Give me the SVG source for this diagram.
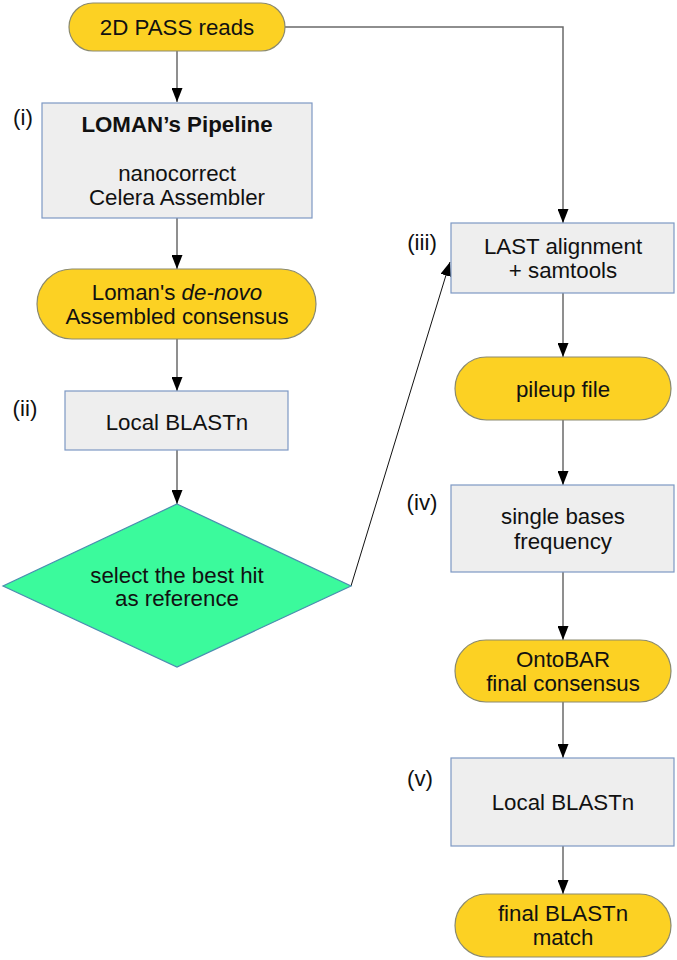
<svg xmlns="http://www.w3.org/2000/svg" width="677" height="960" viewBox="0 0 677 960">
<defs>
<marker id="ah" markerWidth="14" markerHeight="11" refX="14" refY="5.5" orient="auto" markerUnits="userSpaceOnUse" viewBox="0 0 14 11">
<path d="M0,0 L14,5.5 L0,11 Z" fill="#000"/>
</marker>
<style>
text{font-family:"Liberation Sans",Arial,sans-serif;font-size:22.3px;fill:#111;text-anchor:middle}
.pill{fill:#fcd123;stroke:#8b8a6e;stroke-width:1.2}
.box{fill:#eeeeee;stroke:#7d98c4;stroke-width:1.2}
.dia{fill:#3bfa9c;stroke:#4a8eb0;stroke-width:1.2}
.c{fill:none;stroke:#6a6a6a;stroke-width:1.5}
.thin{fill:none;stroke:#111;stroke-width:1}
</style>
</defs>
<g id="connectors">
<path class="c" d="M177,51 V102" marker-end="url(#ah)"/>
<path class="c" d="M285,27 H563 V223" marker-end="url(#ah)"/>
<path class="c" d="M177,218 V269" marker-end="url(#ah)"/>
<path class="c" d="M177,339 V391" marker-end="url(#ah)"/>
<path class="c" d="M177,450 V504" marker-end="url(#ah)"/>
<path class="thin" d="M351,586 L450,262" marker-end="url(#ah)"/>
<path class="c" d="M563,293 V357" marker-end="url(#ah)"/>
<path class="c" d="M563,420 V485" marker-end="url(#ah)"/>
<path class="c" d="M563,572 V640" marker-end="url(#ah)"/>
<path class="c" d="M563,702 V758" marker-end="url(#ah)"/>
<path class="c" d="M563,846 V894" marker-end="url(#ah)"/>
</g>
<g id="n1"><rect class="pill" x="69" y="3" width="216" height="48" rx="24"/><text x="177" y="35">2D PASS reads</text></g>
<g id="n2"><rect class="box" x="42" y="103" width="270" height="115"/><text x="23" y="125">(i)</text>
<text x="177" y="132" style="font-weight:bold">LOMAN’s Pipeline</text><text x="177" y="181">nanocorrect</text><text x="177" y="205">Celera Assembler</text></g>
<g id="n3"><rect class="pill" x="37" y="269" width="279" height="70" rx="35"/><text x="177" y="300">Loman's <tspan font-style="italic">de-novo</tspan></text><text x="177" y="324">Assembled consensus</text></g>
<g id="n4"><rect class="box" x="65" y="391" width="223" height="59"/><text x="25" y="416">(ii)</text><text x="177" y="430">Local BLASTn</text></g>
<g id="n5"><polygon class="dia" points="177,504 351,586 177,667 3,586"/><text x="177" y="583">select the best hit</text><text x="177" y="606">as reference</text></g>
<g id="n6"><rect class="box" x="451" y="223" width="223" height="70"/><text x="422" y="250">(iii)</text><text x="563" y="254">LAST alignment</text><text x="563" y="278">+ samtools</text></g>
<g id="n7"><rect class="pill" x="455" y="357" width="216" height="63" rx="31.5"/><text x="563" y="397">pileup file</text></g>
<g id="n8"><rect class="box" x="451" y="485" width="223" height="87"/><text x="422" y="510">(iv)</text><text x="563" y="524">single bases</text><text x="563" y="549">frequency</text></g>
<g id="n9"><rect class="pill" x="455" y="640" width="216" height="62" rx="31"/><text x="563" y="667">OntoBAR</text><text x="563" y="691">final consensus</text></g>
<g id="n10"><rect class="box" x="451" y="758" width="223" height="88"/><text x="420" y="786">(v)</text><text x="563" y="810">Local BLASTn</text></g>
<g id="n11"><rect class="pill" x="455" y="894" width="216" height="63" rx="31.5"/><text x="563" y="921">final BLASTn</text><text x="563" y="945">match</text></g>
</svg>
